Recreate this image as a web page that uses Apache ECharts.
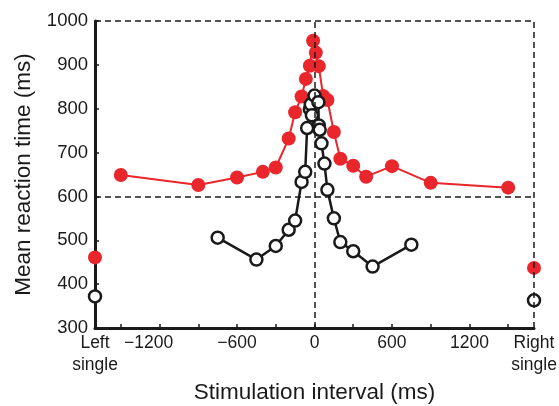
<!DOCTYPE html>
<html>
<head>
<meta charset="utf-8">
<script src="https://cdn.jsdelivr.net/npm/echarts@6/dist/echarts.min.js"></script>
<style>
html,body{margin:0;padding:0;background:#fff;}
#c{width:559px;height:406px;}
</style>
</head>
<body>
<div id="c"></div>
<script>
// ---- data ----
var redX   = [-1500, -900, -600, -400, -300, -200, -150, -100, -67, -36, -11, 10, 33, 67, 100, 150, 200, 300, 400, 600, 900, 1500];
var redY   = [649, 626, 643, 656, 666, 732, 792, 828, 868, 898, 955, 928, 897, 829, 820, 747, 686, 670, 645, 669, 631, 620];
var blackX = [-750, -450, -300, -200, -150, -100, -72, -57, -36, -29, -20, 0, 30, 33, 40, 54, 77, 100, 150, 200, 300, 450, 750];
var blackY = [506, 456, 487, 524, 545, 633, 656, 756, 799, 810, 785, 830, 815, 762, 752, 721, 675, 615, 550, 496, 475, 440, 490];
var singleX = [-1700, 1700];
var redSingleY = [461, 437];
var blackSingleY = [372, 363];
var xTickValues = [-1500, -1200, -900, -600, -300, 0, 300, 600, 900, 1200, 1500];
var xLabelValues = [-1700, -1200, -600, 0, 600, 1200, 1700];
var xLabelTexts = ['Left\nsingle', '\u22121200', '\u2212600', '0', '600', '1200', 'Right\nsingle'];
var refY = [600, 1000];
var refX = [0, 1700];

function pairs(xs, ys){ return xs.map(function(x,i){ return [x, ys[i]]; }); }

var RED = '#e8262b';
var INK = '#1a1a1a';
var FONT = 'Liberation Sans, Arial, Helvetica, sans-serif';

var chart = echarts.init(document.getElementById('c'), null, {renderer:'canvas'});
chart.setOption({
  animation: false,
  backgroundColor: '#fff',
  grid: {left: 95, right: 25, top: 21, bottom: 78, containLabel: false, outerBoundsMode: 'none'},
  xAxis: {
    type: 'value', min: -1700, max: 1700,
    name: 'Stimulation interval (ms)', nameLocation: 'middle', nameGap: 37,
    nameTextStyle: {fontSize: 22.5, color: INK, fontFamily: FONT},
    splitLine: {show: false},
    axisLine: {show: true, onZero: false, lineStyle: {color: INK, width: 3}},
    axisTick: {show: true, inside: true, length: 4, lineStyle: {color: INK, width: 1.5}, customValues: xTickValues},
    axisLabel: {
      color: INK, fontSize: 17.5, fontFamily: FONT, margin: 4.5, lineHeight: 22,
      customValues: xLabelValues,
      formatter: function(v){
        var i = xLabelValues.indexOf(v);
        var t = i >= 0 ? xLabelTexts[i] : '';
        if (v === -1200) return '{sh|' + t + '}';
        return t;
      },
      rich: {sh: {padding: [0, 22, 0, 0], fontSize: 17.5, fontFamily: FONT, color: INK}}
    }
  },
  yAxis: {
    type: 'value', min: 300, max: 1000, interval: 100,
    name: 'Mean reaction time (ms)', nameLocation: 'middle', nameGap: 60,
    nameTextStyle: {fontSize: 22.5, color: INK, fontFamily: FONT},
    splitLine: {show: false},
    axisLine: {show: true, onZero: false, lineStyle: {color: INK, width: 3}},
    axisTick: {show: true, inside: true, length: 4, lineStyle: {color: INK, width: 1.5}},
    axisLabel: {color: INK, fontSize: 18.5, fontFamily: FONT, margin: 7, formatter: function(v){ return String(v); }}
  },
  series: [
    {
      type: 'line', data: [], z: 1, silent: true,
      markLine: {
        silent: true, symbol: ['none','none'], animation: false,
        label: {show: false},
        lineStyle: {color: INK, width: 1.5, type: [6, 4]},
        data: refY.map(function(y){ return {yAxis: y}; }).concat(refX.map(function(x){ return {xAxis: x}; }))
      }
    },
    {
      type: 'line', data: pairs(redX, redY), z: 3,
      symbol: 'circle', symbolSize: 14, clip: false,
      lineStyle: {color: RED, width: 2},
      itemStyle: {color: RED, borderWidth: 0, opacity: 1}
    },
    {
      type: 'scatter', data: pairs(singleX, redSingleY), z: 3,
      symbol: 'circle', symbolSize: 14, clip: false,
      itemStyle: {color: RED, opacity: 1}
    },
    {
      type: 'line', data: pairs(blackX, blackY), z: 4,
      symbol: 'circle', symbolSize: 12, clip: false,
      lineStyle: {color: INK, width: 2.5},
      itemStyle: {color: '#fff', borderColor: INK, borderWidth: 2.5, opacity: 1}
    },
    {
      type: 'scatter', data: pairs(singleX, blackSingleY), z: 4,
      symbol: 'circle', symbolSize: 12, clip: false,
      itemStyle: {color: '#fff', borderColor: INK, borderWidth: 2.5, opacity: 1}
    }
  ]
});
</script>
</body>
</html>
